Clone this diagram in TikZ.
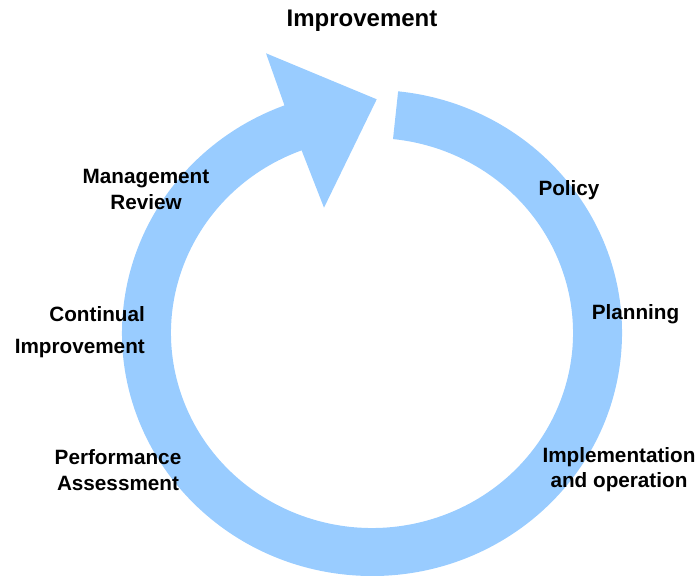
\documentclass[tikz,border=0pt]{standalone}
\usepackage{fontspec}
\setmainfont{Liberation Sans}
\usetikzlibrary{calc}
\definecolor{ringblue}{HTML}{99CCFF}
\begin{document}
\begin{tikzpicture}[x=1pt,y=1pt,
  lbl/.style={font=\bfseries\fontsize{20.7}{25}\selectfont, inner sep=0pt, align=center, anchor=base, text=black},
  ttl/.style={font=\bfseries\fontsize{24}{28}\selectfont, inner sep=0pt, anchor=base, text=black}]
\useasboundingbox (0,0) rectangle (700,575);
% ring arrow
\coordinate (ctr) at (372,242);
\coordinate (barbA) at (266,521.7);
\coordinate (tip) at (376.7,475.7);
\coordinate (barbB) at (324,367.3);
\fill[ringblue]
  ($(ctr)+(84:250 and 243)$) arc[start angle=84, end angle=-249.5, x radius=250, y radius=243]
  -- (barbA) -- (tip) -- (barbB)
  -- ($(ctr)+(110.5:201 and 195)$) arc[start angle=-249.5, end angle=84, x radius=201, y radius=195]
  -- cycle;
% labels (base anchor = baseline of the last line)
\node[ttl] (title) at (362,548.3) {Improvement};
\node[lbl, font=\bfseries\fontsize{20.7}{26}\selectfont] (mgmt) at (146,365.7) {Management\\Review};
\node[lbl, align=right, anchor=base east, font=\bfseries\fontsize{20.7}{32}\selectfont] (cont) at (145,221) {Continual\\Improvement};
\node[lbl, font=\bfseries\fontsize{20.7}{26}\selectfont] (perf) at (118,84.5) {Performance\\Assessment};
\node[lbl] (policy) at (569,379) {Policy};
\node[lbl] (plan) at (635.5,255) {Planning};
\node[lbl, font=\bfseries\fontsize{20.7}{25}\selectfont] (impl) at (619,87.3) {Implementation\\and operation};
\end{tikzpicture}
\end{document}
